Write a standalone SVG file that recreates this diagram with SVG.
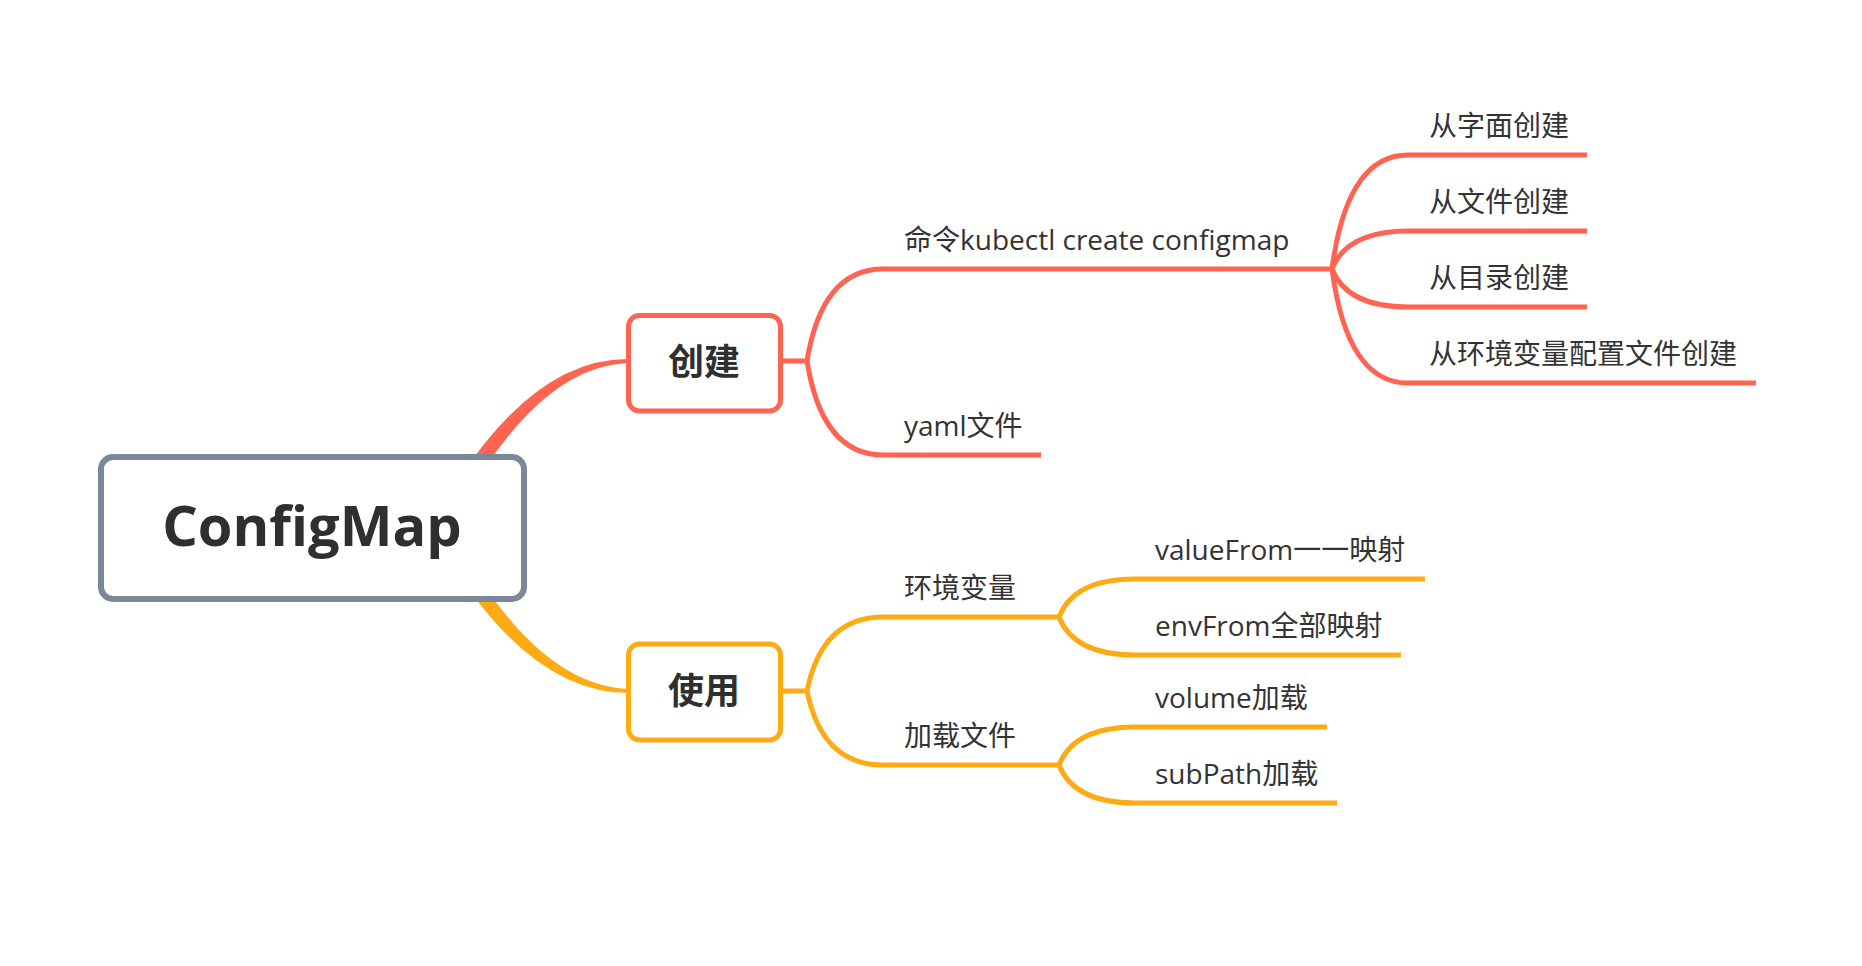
<svg xmlns="http://www.w3.org/2000/svg" width="1862" height="966" viewBox="0 0 1862 966">
<style>
.t{font-family:"Open Sans","Noto Sans CJK SC",sans-serif;font-size:28px;fill:#333333}
.b{font-family:"Open Sans","Noto Sans CJK SC",sans-serif;font-weight:bold;fill:#2f2f2f;text-anchor:middle}
.r{fill:none;stroke:#FF6452;stroke-width:5}
.o{fill:none;stroke:#FDAB14;stroke-width:5}
</style>
<rect width="1862" height="966" fill="#ffffff"/>
<g id="connectors">
  <path d="M430 528 Q522 357 630 359 L630 363 Q534 365 450 528 Z" fill="#FF6452"/>
  <path d="M430 528 Q522 694 630 693 L630 689 Q534 687 450 528 Z" fill="#FDAB14"/>
  <path class="r" d="M779 361 H807"/>
  <path class="r" d="M807 361 Q822 269 883 269 H1332"/>
  <path class="r" d="M807 361 Q822 455 883 455 H1041"/>
  <path class="r" d="M1332 269 Q1347 155 1408 155 H1587"/>
  <path class="r" d="M1332 269 Q1347 231 1408 231 H1587"/>
  <path class="r" d="M1332 269 Q1347 307 1408 307 H1587"/>
  <path class="r" d="M1332 269 Q1347 383 1408 383 H1756"/>
  <path class="o" d="M779 691 H807"/>
  <path class="o" d="M807 691 Q822 617 883 617 H1059"/>
  <path class="o" d="M807 691 Q822 765 883 765 H1059"/>
  <path class="o" d="M1059 617 Q1074 579 1135 579 H1425"/>
  <path class="o" d="M1059 617 Q1074 655 1135 655 H1401"/>
  <path class="o" d="M1059 765 Q1074 727 1135 727 H1327"/>
  <path class="o" d="M1059 765 Q1074 803 1135 803 H1337"/>
</g>
<g id="root">
  <rect x="101" y="457" width="423" height="142" rx="12" fill="#ffffff" stroke="#7B879A" stroke-width="6"/>
  <text class="b" x="312" y="546" font-size="56">ConfigMap</text>
</g>
<g id="create">
  <rect x="628.5" y="315.5" width="152" height="95.5" rx="11" fill="#ffffff" stroke="#FF6452" stroke-width="5"/>
  <text class="b" x="704" y="375" font-size="36">创建</text>
</g>
<g id="use">
  <rect x="628.5" y="644" width="152" height="96" rx="11" fill="#ffffff" stroke="#FDAB14" stroke-width="5"/>
  <text class="b" x="704" y="704" font-size="36">使用</text>
</g>
<g id="cmd"><text class="t" x="904" y="250">命令kubectl create configmap</text></g>
<g id="yaml"><text class="t" x="904" y="436">yaml文件</text></g>
<g id="literal"><text class="t" x="1429" y="136">从字面创建</text></g>
<g id="file"><text class="t" x="1429" y="212">从文件创建</text></g>
<g id="dir"><text class="t" x="1429" y="288">从目录创建</text></g>
<g id="envfile"><text class="t" x="1429" y="364">从环境变量配置文件创建</text></g>
<g id="env"><text class="t" x="904" y="598">环境变量</text></g>
<g id="mount"><text class="t" x="904" y="746">加载文件</text></g>
<g id="valuefrom"><text class="t" x="1155" y="560">valueFrom一一映射</text></g>
<g id="envfrom"><text class="t" x="1155" y="636">envFrom全部映射</text></g>
<g id="volume"><text class="t" x="1155" y="708">volume加载</text></g>
<g id="subpath"><text class="t" x="1155" y="784">subPath加载</text></g>
</svg>
